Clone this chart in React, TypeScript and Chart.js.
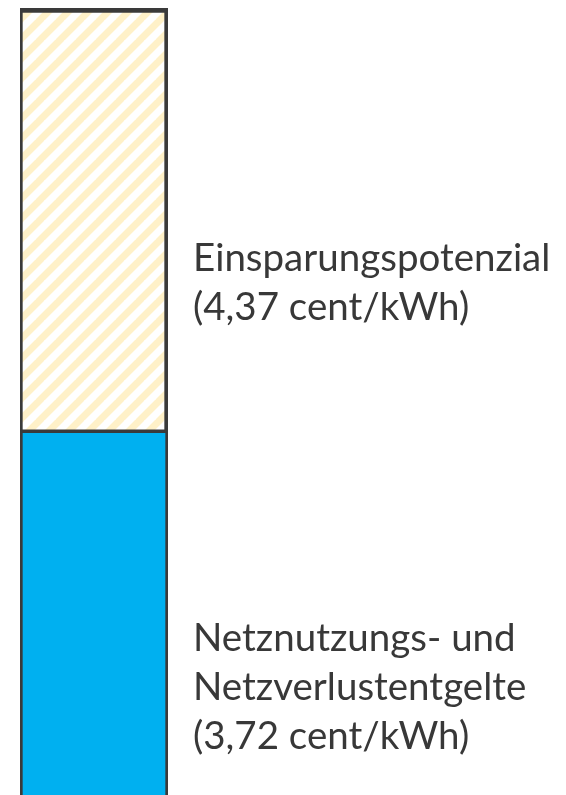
import React, { useEffect, useRef } from "react";
import { Chart, registerables } from "chart.js";

Chart.register(...registerables);

const categories = ["Netzentgelte"];
const netzValues = [3.72];
const einsparValues = [4.37];
const netzLabel = ["Netznutzungs- und", "Netzverlustentgelte", "(3,72 cent/kWh)"];
const einsparLabel = ["Einsparungspotenzial", "(4,37 cent/kWh)"];

function makeHatch(): CanvasPattern | string {
  const size = 20;
  const c = document.createElement("canvas");
  c.width = size;
  c.height = size;
  const ctx = c.getContext("2d");
  if (!ctx) return "#fff6dc";
  ctx.fillStyle = "#ffffff";
  ctx.fillRect(0, 0, size, size);
  ctx.strokeStyle = "#fff1c8";
  ctx.lineWidth = 7;
  ctx.beginPath();
  for (let k = -1; k <= 1; k++) {
    ctx.moveTo(k * size - 2, size + 2);
    ctx.lineTo(k * size + size + 2, -2);
  }
  ctx.stroke();
  const p = ctx.createPattern(c, "repeat");
  return p || "#fff6dc";
}

const labelPlugin = {
  id: "segmentLabels",
  afterDatasetsDraw(chart: any) {
    const ctx = chart.ctx;
    ctx.save();
    ctx.fillStyle = "#383838";
    ctx.font = "38.5px Lato";
    ctx.textAlign = "left";
    ctx.textBaseline = "alphabetic";
    const lineH = 49;
    const x = chart.chartArea.right + 25;
    const meta0 = chart.getDatasetMeta(0).data[0];
    const meta1 = chart.getDatasetMeta(1).data[0];
    const b0 = meta0.base - 46;
    netzLabel.forEach((t, i) => {
      ctx.fillText(t, x, b0 - (netzLabel.length - 1 - i) * lineH);
    });
    const b1 = meta1.base - 113;
    einsparLabel.forEach((t, i) => {
      ctx.fillText(t, x, b1 - (einsparLabel.length - 1 - i) * lineH);
    });
    ctx.restore();
  },
};

export default function App() {
  const ref = useRef<HTMLCanvasElement | null>(null);
  useEffect(() => {
    document.body.style.margin = "0";
    if (!ref.current) return;
    const hatch = makeHatch();
    const chart = new Chart(ref.current, {
      type: "bar",
      data: {
        labels: categories,
        datasets: [
          {
            label: "Netznutzungs- und Netzverlustentgelte",
            data: netzValues,
            backgroundColor: "#00b0f0",
            borderColor: "#3a3a3a",
            borderWidth: { left: 3, right: 3, top: 0, bottom: 0 },
            borderSkipped: false,
            barPercentage: 1,
            categoryPercentage: 1,
          },
          {
            label: "Einsparungspotenzial",
            data: einsparValues,
            backgroundColor: hatch as any,
            borderColor: "#3a3a3a",
            borderWidth: { left: 3, right: 4, top: 5, bottom: 4 },
            borderSkipped: false,
            barPercentage: 1,
            categoryPercentage: 1,
          },
        ],
      },
      options: {
        responsive: false,
        animation: false,
        layout: { padding: { left: 20, right: 566 - 168, top: 8, bottom: 0 } },
        plugins: { legend: { display: false }, tooltip: { enabled: false } },
        scales: {
          x: { stacked: true, display: false },
          y: { stacked: true, display: false, min: 0, max: 8.09 },
        },
      },
      plugins: [labelPlugin],
    });
    return () => chart.destroy();
  }, []);
  return <canvas ref={ref} width={566} height={795} style={{ display: "block" }} />;
}
